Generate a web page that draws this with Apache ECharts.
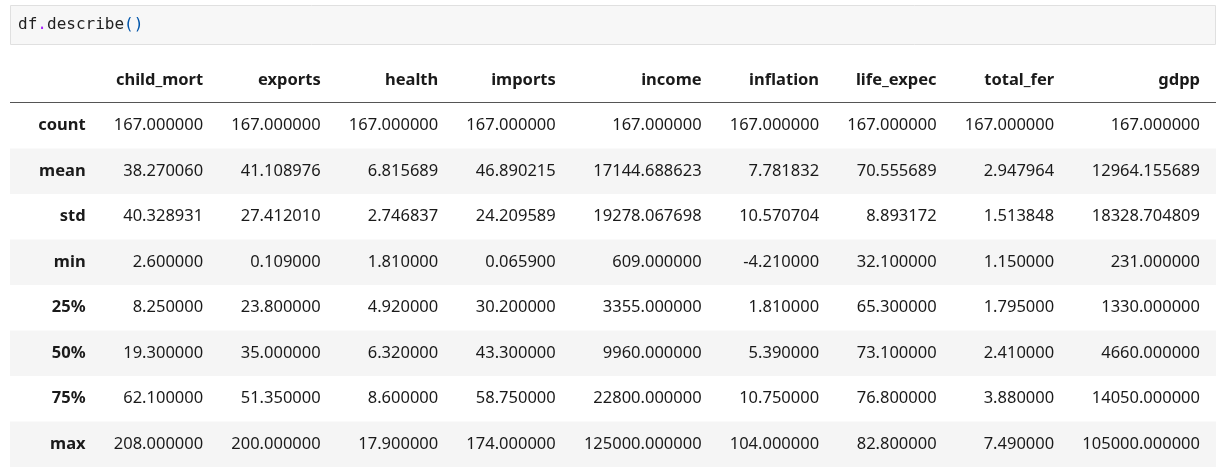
<!DOCTYPE html><html><head><meta charset="utf-8">
<script src="https://cdn.jsdelivr.net/npm/echarts@6/dist/echarts.min.js"></script>
<style>html,body{margin:0;background:#fff}#c{width:1216px;height:471px}</style></head><body><div id="c"></div>
<script>
const columns=['child_mort','exports','health','imports','income','inflation','life_expec','total_fer','gdpp'];
const rowLabels=['count','mean','std','min','25%','50%','75%','max'];
const child_mort=['167.000000','38.270060','40.328931','2.600000','8.250000','19.300000','62.100000','208.000000'];
const exportsV=['167.000000','41.108976','27.412010','0.109000','23.800000','35.000000','51.350000','200.000000'];
const health=['167.000000','6.815689','2.746837','1.810000','4.920000','6.320000','8.600000','17.900000'];
const imports=['167.000000','46.890215','24.209589','0.065900','30.200000','43.300000','58.750000','174.000000'];
const income=['167.000000','17144.688623','19278.067698','609.000000','3355.000000','9960.000000','22800.000000','125000.000000'];
const inflation=['167.000000','7.781832','10.570704','-4.210000','1.810000','5.390000','10.750000','104.000000'];
const life_expec=['167.000000','70.555689','8.893172','32.100000','65.300000','73.100000','76.800000','82.800000'];
const total_fer=['167.000000','2.947964','1.513848','1.150000','1.795000','2.410000','3.880000','7.490000'];
const gdpp=['167.000000','12964.155689','18328.704809','231.000000','1330.000000','4660.000000','14050.000000','105000.000000'];
const colData=[child_mort,exportsV,health,imports,income,inflation,life_expec,total_fer,gdpp];

const FONT="16.5px 'Noto Sans'";
const BFONT="bold 16.5px 'Noto Sans'";
const cv=document.createElement('canvas').getContext('2d');
function w(t,f){cv.font=f;return cv.measureText(t).width;}
const left=10, right=1200;
const labelW=Math.max(...rowLabels.map(t=>w(t,BFONT)));
const widths=columns.map((c,i)=>Math.max(w(c,BFONT),...colData[i].map(v=>w(v,FONT))));
const pad=(right-left-labelW-widths.reduce((a,b)=>a+b,0))/(columns.length+1);
const edges=[left+labelW+pad];
widths.forEach(x=>edges.push(edges[edges.length-1]+x+pad));

const cats=['header',...rowLabels];
const data=[];
cats.forEach((r,ri)=>{for(let ci=0;ci<=columns.length;ci++){data.push([ci,ri]);}});

const chart=echarts.init(document.getElementById('c'));
chart.setOption({
 animation:false,
 grid:{left:0,right:0,top:57.5,bottom:4},
 xAxis:{type:'value',min:0,max:1216,show:false},
 yAxis:{type:'category',data:cats,inverse:true,show:false},
 graphic:[
  {type:'rect',shape:{x:10.5,y:5.5,width:1205,height:39},style:{fill:'#f7f7f7',stroke:'#e0e0e0',lineWidth:1}},
  {type:'text',x:18,y:25,style:{text:'df',font:"16px 'DejaVu Sans Mono'",fill:'#222',verticalAlign:'middle'}},
  {type:'text',x:37.3,y:25,style:{text:'.',font:"16px 'DejaVu Sans Mono'",fill:'#aa22ff',verticalAlign:'middle'}},
  {type:'text',x:47,y:25,style:{text:'describe',font:"16px 'DejaVu Sans Mono'",fill:'#222',verticalAlign:'middle'}},
  {type:'text',x:124,y:25,style:{text:'()',font:"16px 'DejaVu Sans Mono'",fill:'#0055aa',verticalAlign:'middle'}}
 ],
 series:[{type:'custom',data:data,clip:false,
  renderItem:function(params,api){
   const ci=api.value(0),ri=api.value(1);
   const y=api.coord([0,ri])[1];
   const h=api.size([0,1])[1];
   const ch=[];
   if(ci===0){
     if(ri%2===0&&ri>0) ch.push({type:'rect',shape:{x:10,y:y-h/2,width:1206,height:h},style:{fill:'#f5f5f5'}});
     if(ri===0) ch.push({type:'rect',shape:{x:10,y:y+h/2-1,width:1206,height:1},style:{fill:'#555'}});
   }
   let text,font;
   if(ri===0){ if(ci===0) return {type:'group',children:ch}; text=columns[ci-1]; font=BFONT; }
   else if(ci===0){ text=rowLabels[ri-1]; font=BFONT; }
   else { text=colData[ci-1][ri-1]; font=FONT; }
   ch.push({type:'text',x:edges[ci],y:y,style:{text:text,font:font,fill:'#1a1a1a',align:'right',verticalAlign:'middle'}});
   return {type:'group',children:ch};
  }}]
});
</script></body></html>
